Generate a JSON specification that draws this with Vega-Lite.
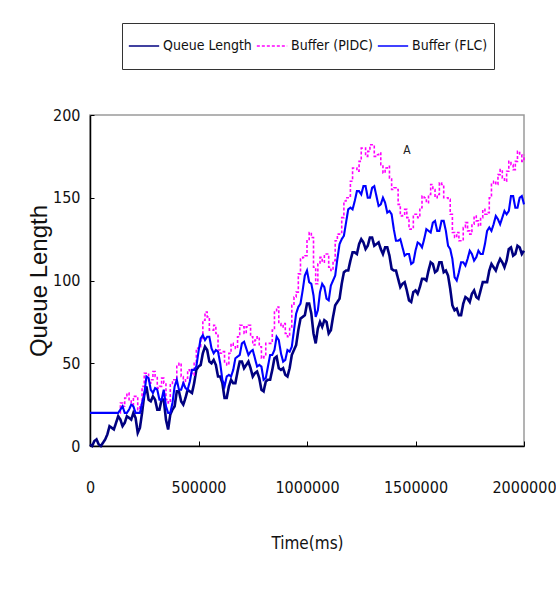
{
  "$schema": "https://vega.github.io/schema/vega-lite/v6.json",
  "width": 434,
  "height": 331,
  "autosize": "none",
  "padding": {"left": 90, "top": 115, "right": 32, "bottom": 145},
  "background": "white",
  "datasets": {
    "main": [
      {"t":0,"q":1,"f":20,"p":20},{"t":10000,"q":0,"f":20,"p":20},
      {"t":20000,"q":3,"f":20,"p":20},{"t":30000,"q":4,"f":20,"p":20},
      {"t":40000,"q":1,"f":20,"p":20},{"t":50000,"q":0,"f":20,"p":20},
      {"t":60000,"q":2,"f":20,"p":20},{"t":70000,"q":4,"f":20,"p":20},
      {"t":80000,"q":7,"f":20,"p":20},{"t":90000,"q":12,"f":20,"p":20},
      {"t":100000,"q":11,"f":20,"p":20},{"t":110000,"q":10,"f":20,"p":20},
      {"t":120000,"q":14,"f":20,"p":20},{"t":130000,"q":18,"f":20,"p":20},
      {"t":140000,"q":16,"f":22,"p":26},{"t":150000,"q":12,"f":24,"p":24},
      {"t":160000,"q":14,"f":20,"p":29},{"t":170000,"q":18,"f":20,"p":32},
      {"t":180000,"q":17,"f":22,"p":28},{"t":190000,"q":16,"f":25,"p":25},
      {"t":200000,"q":20,"f":24,"p":30},{"t":210000,"q":17,"f":20,"p":30},
      {"t":220000,"q":8,"f":20,"p":22},{"t":230000,"q":11,"f":20,"p":25},
      {"t":240000,"q":20,"f":26,"p":36},{"t":250000,"q":31,"f":31,"p":44},
      {"t":260000,"q":36,"f":42,"p":44},{"t":270000,"q":28,"f":41,"p":38},
      {"t":280000,"q":27,"f":34,"p":40},{"t":290000,"q":30,"f":32,"p":45},
      {"t":300000,"q":28,"f":35,"p":42},{"t":310000,"q":22,"f":34,"p":35},
      {"t":320000,"q":22,"f":28,"p":36},{"t":330000,"q":28,"f":28,"p":41},
      {"t":340000,"q":28,"f":34,"p":38},{"t":350000,"q":16,"f":24,"p":28},
      {"t":360000,"q":10,"f":20,"p":26},{"t":370000,"q":19,"f":20,"p":37},
      {"t":380000,"q":22,"f":26,"p":40},{"t":390000,"q":24,"f":36,"p":40},
      {"t":400000,"q":33,"f":40,"p":49},{"t":410000,"q":33,"f":34,"p":50},
      {"t":420000,"q":27,"f":34,"p":42},{"t":430000,"q":25,"f":38,"p":38},
      {"t":440000,"q":29,"f":35,"p":41},{"t":450000,"q":34,"f":34,"p":46},
      {"t":460000,"q":33,"f":39,"p":44},{"t":470000,"q":32,"f":46,"p":43},
      {"t":480000,"q":38,"f":46,"p":50},{"t":490000,"q":46,"f":48,"p":59},
      {"t":500000,"q":48,"f":57,"p":60},{"t":510000,"q":49,"f":65,"p":64},
      {"t":520000,"q":56,"f":67,"p":76},{"t":530000,"q":60,"f":64,"p":81},
      {"t":540000,"q":58,"f":66,"p":78},{"t":550000,"q":51,"f":66,"p":70},
      {"t":560000,"q":50,"f":59,"p":70},{"t":570000,"q":52,"f":56,"p":73},
      {"t":580000,"q":49,"f":58,"p":68},{"t":590000,"q":42,"f":57,"p":58},
      {"t":600000,"q":42,"f":50,"p":56},{"t":610000,"q":38,"f":40,"p":57},
      {"t":620000,"q":29,"f":36,"p":50},{"t":630000,"q":29,"f":42,"p":49},
      {"t":640000,"q":36,"f":43,"p":56},{"t":650000,"q":40,"f":42,"p":62},
      {"t":660000,"q":38,"f":46,"p":60},{"t":670000,"q":38,"f":53,"p":59},
      {"t":680000,"q":45,"f":54,"p":66},{"t":690000,"q":51,"f":55,"p":73},
      {"t":700000,"q":51,"f":62,"p":72},{"t":710000,"q":47,"f":63,"p":68},
      {"t":720000,"q":49,"f":59,"p":72},{"t":730000,"q":51,"f":55,"p":73},
      {"t":740000,"q":47,"f":57,"p":66},{"t":750000,"q":42,"f":58,"p":61},
      {"t":760000,"q":44,"f":53,"p":64},{"t":770000,"q":45,"f":48,"p":66},
      {"t":780000,"q":41,"f":49,"p":60},{"t":790000,"q":34,"f":48,"p":53},
      {"t":800000,"q":33,"f":40,"p":54},{"t":810000,"q":39,"f":41,"p":62},
      {"t":820000,"q":40,"f":48,"p":62},{"t":830000,"q":40,"f":55,"p":62},
      {"t":840000,"q":46,"f":55,"p":70},{"t":850000,"q":53,"f":58,"p":81},
      {"t":860000,"q":54,"f":66,"p":84},{"t":870000,"q":47,"f":64,"p":74},
      {"t":880000,"q":46,"f":56,"p":72},{"t":890000,"q":47,"f":51,"p":74},
      {"t":900000,"q":43,"f":52,"p":68},{"t":910000,"q":42,"f":58,"p":66},
      {"t":920000,"q":47,"f":57,"p":72},{"t":930000,"q":55,"f":60,"p":85},
      {"t":940000,"q":58,"f":70,"p":90},{"t":950000,"q":61,"f":80,"p":93},
      {"t":960000,"q":70,"f":84,"p":104},{"t":970000,"q":77,"f":86,"p":113},
      {"t":980000,"q":78,"f":94,"p":114},{"t":990000,"q":79,"f":103,"p":115},
      {"t":1000000,"q":86,"f":106,"p":124},{"t":1010000,"q":86,"f":99,"p":129},
      {"t":1020000,"q":80,"f":98,"p":126},{"t":1030000,"q":68,"f":91,"p":108},
      {"t":1040000,"q":62,"f":78,"p":98},{"t":1050000,"q":71,"f":82,"p":110},
      {"t":1060000,"q":75,"f":93,"p":114},{"t":1070000,"q":72,"f":98,"p":111},
      {"t":1080000,"q":76,"f":96,"p":116},{"t":1090000,"q":75,"f":89,"p":116},
      {"t":1100000,"q":68,"f":88,"p":108},{"t":1110000,"q":70,"f":97,"p":106},
      {"t":1120000,"q":78,"f":100,"p":112},{"t":1130000,"q":85,"f":103,"p":124},
      {"t":1140000,"q":87,"f":113,"p":128},{"t":1150000,"q":89,"f":122,"p":129},
      {"t":1160000,"q":98,"f":125,"p":138},{"t":1170000,"q":105,"f":127,"p":148},
      {"t":1180000,"q":106,"f":135,"p":150},{"t":1190000,"q":106,"f":143,"p":151},
      {"t":1200000,"q":112,"f":144,"p":160},{"t":1210000,"q":117,"f":143,"p":168},
      {"t":1220000,"q":117,"f":148,"p":168},{"t":1230000,"q":116,"f":154,"p":166},
      {"t":1240000,"q":122,"f":154,"p":172},{"t":1250000,"q":125,"f":152,"p":180},
      {"t":1260000,"q":123,"f":157,"p":180},{"t":1270000,"q":119,"f":157,"p":175},
      {"t":1280000,"q":121,"f":150,"p":178},{"t":1290000,"q":126,"f":150,"p":182},
      {"t":1300000,"q":126,"f":156,"p":182},{"t":1310000,"q":121,"f":157,"p":175},
      {"t":1320000,"q":122,"f":151,"p":176},{"t":1330000,"q":123,"f":145,"p":177},
      {"t":1340000,"q":119,"f":146,"p":170},{"t":1350000,"q":116,"f":150,"p":165},
      {"t":1360000,"q":120,"f":147,"p":168},{"t":1370000,"q":120,"f":141,"p":169},
      {"t":1380000,"q":115,"f":142,"p":162},{"t":1390000,"q":107,"f":140,"p":155},
      {"t":1400000,"q":106,"f":131,"p":156},{"t":1410000,"q":106,"f":124,"p":155},
      {"t":1420000,"q":101,"f":124,"p":146},{"t":1430000,"q":96,"f":125,"p":139},
      {"t":1440000,"q":98,"f":120,"p":140},{"t":1450000,"q":99,"f":115,"p":143},
      {"t":1460000,"q":94,"f":116,"p":138},{"t":1470000,"q":88,"f":116,"p":131},
      {"t":1480000,"q":87,"f":110,"p":132},{"t":1490000,"q":93,"f":111,"p":140},
      {"t":1500000,"q":94,"f":118,"p":140},{"t":1510000,"q":92,"f":123,"p":138},
      {"t":1520000,"q":96,"f":122,"p":144},{"t":1530000,"q":101,"f":120,"p":151},
      {"t":1540000,"q":101,"f":125,"p":150},{"t":1550000,"q":100,"f":131,"p":147},
      {"t":1560000,"q":106,"f":130,"p":152},{"t":1570000,"q":111,"f":129,"p":158},
      {"t":1580000,"q":110,"f":135,"p":155},{"t":1590000,"q":105,"f":136,"p":150},
      {"t":1600000,"q":106,"f":130,"p":152},{"t":1610000,"q":111,"f":130,"p":159},
      {"t":1620000,"q":111,"f":136,"p":158},{"t":1630000,"q":105,"f":136,"p":150},
      {"t":1640000,"q":106,"f":130,"p":150},{"t":1650000,"q":103,"f":121,"p":149},
      {"t":1660000,"q":95,"f":119,"p":140},{"t":1670000,"q":85,"f":113,"p":129},
      {"t":1680000,"q":82,"f":102,"p":126},{"t":1690000,"q":83,"f":100,"p":129},
      {"t":1700000,"q":79,"f":105,"p":124},{"t":1710000,"q":79,"f":111,"p":124},
      {"t":1720000,"q":86,"f":111,"p":132},{"t":1730000,"q":90,"f":109,"p":135},
      {"t":1740000,"q":89,"f":113,"p":130},{"t":1750000,"q":87,"f":118,"p":128},
      {"t":1760000,"q":92,"f":116,"p":134},{"t":1770000,"q":94,"f":112,"p":139},
      {"t":1780000,"q":90,"f":114,"p":136},{"t":1790000,"q":89,"f":118,"p":133},
      {"t":1800000,"q":94,"f":116,"p":138},{"t":1810000,"q":99,"f":116,"p":143},
      {"t":1820000,"q":99,"f":122,"p":140},{"t":1830000,"q":99,"f":130,"p":141},
      {"t":1840000,"q":106,"f":132,"p":150},{"t":1850000,"q":110,"f":130,"p":159},
      {"t":1860000,"q":108,"f":134,"p":160},{"t":1870000,"q":106,"f":139,"p":158},
      {"t":1880000,"q":110,"f":137,"p":164},{"t":1890000,"q":113,"f":134,"p":167},
      {"t":1900000,"q":111,"f":138,"p":162},{"t":1910000,"q":108,"f":142,"p":160},
      {"t":1920000,"q":112,"f":140,"p":166},{"t":1930000,"q":119,"f":142,"p":172},
      {"t":1940000,"q":120,"f":151,"p":170},{"t":1950000,"q":115,"f":151,"p":167},
      {"t":1960000,"q":116,"f":144,"p":172},{"t":1970000,"q":121,"f":144,"p":178},
      {"t":1980000,"q":120,"f":150,"p":176},{"t":1990000,"q":116,"f":151,"p":172},
      {"t":2000000,"q":118,"f":146,"p":176}
    ]
  },
  "encoding": {
    "x": {
      "field": "t", "type": "quantitative",
      "scale": {"domain": [0, 2000000], "nice": false, "zero": false},
      "axis": {
        "title": "Time(ms)",
        "values": [0, 500000, 1000000, 1500000, 2000000],
        "format": "d",
        "grid": false,
        "tickSize": -5,
        "labelPadding": 38,
        "titlePadding": 40,
        "labelFlush": false
      }
    },
    "y": {
      "field": "value", "type": "quantitative",
      "scale": {"domain": [0, 200], "nice": false},
      "axis": {
        "title": "Queue Length",
        "values": [0, 50, 100, 150, 200],
        "grid": false,
        "tickSize": -4,
        "labelPadding": 14,
        "titlePadding": 1,
        "titleFontSize": 24,
        "titleFont": "Liberation Sans"
      }
    }
  },
  "layer": [
    {
      "data": {"name": "main"},
      "transform": [
        {"fold": ["q", "p", "f"], "as": ["series", "value"]},
        {"filter": "datum.series == 'q'"}
      ],
      "mark": {"type": "line", "strokeWidth": 2.6, "interpolate": "linear"},
      "encoding": {
        "color": {"field": "series", "type": "nominal", "scale": {"domain": ["q", "p", "f"], "range": ["#000080", "#FF00FF", "#0000FF"]}, "legend": {"labelExpr": "datum.label == 'q' ? 'Queue Length' : datum.label == 'p' ? 'Buffer (PIDC)' : 'Buffer (FLC)'"}},
        "strokeDash": {"field": "series", "type": "nominal", "scale": {"domain": ["q", "p", "f"], "range": [[1, 0], [3, 2], [1, 0]]}, "legend": {"labelExpr": "datum.label == 'q' ? 'Queue Length' : datum.label == 'p' ? 'Buffer (PIDC)' : 'Buffer (FLC)'"}}
      }
    },
    {
      "data": {"name": "main"},
      "transform": [
        {"fold": ["q", "p", "f"], "as": ["series", "value"]},
        {"filter": "datum.series == 'p'"}
      ],
      "mark": {"type": "line", "strokeWidth": 1.6, "interpolate": "step-after"},
      "encoding": {
        "color": {"field": "series", "type": "nominal", "scale": {"domain": ["q", "p", "f"], "range": ["#000080", "#FF00FF", "#0000FF"]}, "legend": {"labelExpr": "datum.label == 'q' ? 'Queue Length' : datum.label == 'p' ? 'Buffer (PIDC)' : 'Buffer (FLC)'"}},
        "strokeDash": {"field": "series", "type": "nominal", "scale": {"domain": ["q", "p", "f"], "range": [[1, 0], [3, 2], [1, 0]]}, "legend": {"labelExpr": "datum.label == 'q' ? 'Queue Length' : datum.label == 'p' ? 'Buffer (PIDC)' : 'Buffer (FLC)'"}}
      }
    },
    {
      "data": {"name": "main"},
      "transform": [
        {"fold": ["q", "p", "f"], "as": ["series", "value"]},
        {"filter": "datum.series == 'f'"}
      ],
      "mark": {"type": "line", "strokeWidth": 2.1, "interpolate": "linear"},
      "encoding": {
        "color": {"field": "series", "type": "nominal", "scale": {"domain": ["q", "p", "f"], "range": ["#000080", "#FF00FF", "#0000FF"]}, "legend": {"labelExpr": "datum.label == 'q' ? 'Queue Length' : datum.label == 'p' ? 'Buffer (PIDC)' : 'Buffer (FLC)'"}},
        "strokeDash": {"field": "series", "type": "nominal", "scale": {"domain": ["q", "p", "f"], "range": [[1, 0], [3, 2], [1, 0]]}, "legend": {"labelExpr": "datum.label == 'q' ? 'Queue Length' : datum.label == 'p' ? 'Buffer (PIDC)' : 'Buffer (FLC)'"}}
      }
    },
    {
      "data": {"values": [{"t": 1460000, "value": 179, "label": "A"}]},
      "mark": {"type": "text", "font": "Liberation Sans Narrow, DejaVu Sans Condensed, Liberation Sans, sans-serif", "fontSize": 12, "color": "#222"},
      "encoding": {"text": {"field": "label"}}
    }
  ],
  "config": {
    "view": {"stroke": "#9a9a9a", "strokeWidth": 1.5},
    "font": "Liberation Sans Narrow, DejaVu Sans Condensed, Liberation Sans, sans-serif",
    "axis": {
      "domainColor": "#000",
      "domainWidth": 1.5,
      "tickColor": "#000",
      "tickWidth": 1,
      "labelColor": "#111",
      "labelFontSize": 16,
      "labelFont": "Liberation Sans Narrow, DejaVu Sans Condensed, Liberation Sans, sans-serif",
      "titleColor": "#111",
      "titleFontSize": 17,
      "titleFontWeight": "normal",
      "titleFont": "Liberation Sans Narrow, DejaVu Sans Condensed, Liberation Sans, sans-serif"
    },
    "legend": {
      "orient": "none",
      "legendX": 32,
      "legendY": -92,
      "direction": "horizontal",
      "title": null,
      "strokeColor": "#333",
      "fillColor": "white",
      "padding": 6,
      "symbolType": "stroke",
      "symbolSize": 920,
      "symbolStrokeWidth": 1.5,
      "clipHeight": 34,
      "labelFontSize": 14,
      "labelColor": "#111",
      "labelFont": "Liberation Sans Narrow, DejaVu Sans Condensed, Liberation Sans, sans-serif",
      "labelOffset": 3,
      "columnPadding": 4
    }
  }
}
